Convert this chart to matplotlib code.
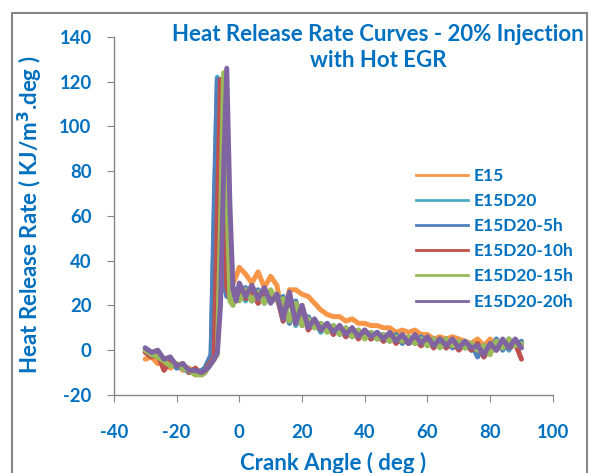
import numpy as np
import matplotlib.pyplot as plt
from matplotlib.lines import Line2D
from matplotlib.patches import Rectangle

# crank angle grid (deg)
angle = [-30, -28, -26, -24, -22, -20, -18, -16, -14, -12,
         -11, -10, -9, -8, -7, -6, -5, -4, -3, -2, -1, 0,
         2, 4, 6, 8, 10, 12, 14, 16, 18, 20, 22, 24, 26, 28, 30,
         32, 34, 36, 38, 40, 42, 44, 46, 48, 50, 52, 54, 56, 58, 60,
         62, 64, 66, 68, 70, 72, 74, 76, 78, 80, 82, 84, 86, 88, 90]

e15 = [-4, -3, -6, -5, -8, -6, -9, -8, -11, -10,
       -9, -7, -4, 10, 70, 118, 75, 40, 32, 30, 33, 37,
       34, 30, 35, 28, 33, 29, 14, 27, 27, 25, 24, 21, 18, 16, 15,
       15, 13, 14, 12, 12, 11, 11, 10, 10, 8, 9, 8, 9, 7, 7,
       5, 6, 5, 6, 5, 4, 3, 5, 2, 5, 2, 4, 1, 3, 2]

e15d20 = [1, -1, -3, -4, -6, -7, -8, -10, -9, -10,
          -9, -6, -3, 55, 122, 80, 32, 27, 24, 28, 23, 27,
          22, 28, 21, 26, 22, 25, 13, 24, 11, 19, 10, 13, 8, 12, 8,
          10, 6, 9, 6, 8, 5, 8, 4, 7, 4, 6, 3, 6, 2, 5,
          2, 5, 1, 4, 1, 4, 0, 3, -3, 2, 1, 4, 0, 4, 3]

e15d20_5h = [0, -2, -1, -5, -4, -8, -7, -9, -10, -9,
             -8, -5, -2, 65, 121, 75, 30, 24, 26, 23, 27, 25,
             28, 22, 27, 21, 26, 22, 24, 12, 22, 11, 15, 10, 12, 9, 11,
             7, 10, 6, 9, 6, 8, 5, 7, 4, 7, 3, 6, 3, 6, 2,
             5, 2, 5, 1, 4, 1, 3, -3, 2, -1, 5, 0, 5, 2, 4]

e15d20_10h = [-1, -3, -2, -9, -5, -7, -6, -10, -8, -11,
              -10, -7, -5, -3, 60, 121, 72, 28, 23, 27, 22, 28,
              23, 27, 21, 27, 22, 24, 13, 25, 12, 20, 9, 13, 9, 11, 7,
              11, 6, 10, 5, 9, 5, 7, 4, 7, 3, 6, 3, 5, 2, 5,
              1, 5, 1, 4, 0, 3, 0, 3, -3, 1, 0, 4, 1, 3, -4]

e15d20_15h = [0, -2, -3, -5, -7, -6, -8, -9, -11, -11,
              -10, -8, -6, -4, -2, 55, 124, 75, 22, 20, 26, 22,
              27, 22, 26, 21, 27, 22, 23, 13, 21, 11, 14, 10, 12, 8, 11,
              7, 10, 6, 9, 5, 8, 5, 7, 4, 6, 4, 6, 3, 5, 2,
              5, 1, 5, 2, 4, 1, 3, 0, 2, -2, 4, 1, 5, 2, 3]

e15d20_20h = [1, -1, 0, -4, -3, -7, -6, -9, -9, -10,
              -9, -8, -6, -4, -1, 20, 80, 126, 65, 27, 22, 30,
              24, 29, 23, 28, 21, 25, 14, 26, 12, 20, 10, 14, 9, 12, 8,
              11, 7, 10, 6, 9, 6, 8, 5, 8, 4, 7, 3, 7, 3, 6,
              2, 5, 2, 5, 1, 4, 1, 2, -2, 3, 0, 5, 1, 5, 1]

labels = ["E15", "E15D20", "E15D20-5h", "E15D20-10h", "E15D20-15h", "E15D20-20h"]
colors = ["#F79646", "#4BACC6", "#4F81BD", "#C0504D", "#9BBB59", "#8064A2"]
series = [e15, e15d20, e15d20_5h, e15d20_10h, e15d20_15h, e15d20_20h]

txt_col = "#0070C0"
grey = "#868686"
plt.rcParams['font.family'] = ['Lato', 'DejaVu Sans']
plt.rcParams['font.weight'] = 'bold'
plt.rcParams['axes.unicode_minus'] = False

fig = plt.figure(figsize=(5.9, 4.73), dpi=100)
ax = fig.add_axes([0.193, 0.165, 0.744, 0.757])

for ys, c in zip(series, colors):
    ax.plot(angle, ys, color=c, lw=3.6, solid_joinstyle='round', solid_capstyle='round')

ax.set_xlim(-40, 100)
ax.set_ylim(-20, 140)
ax.set_xticks(np.arange(-40, 101, 20))
ax.set_yticks(np.arange(-20, 141, 20))
for s in ['top', 'right']:
    ax.spines[s].set_visible(False)
for s in ['left', 'bottom']:
    ax.spines[s].set_color(grey)
    ax.spines[s].set_linewidth(1.0)
ax.tick_params(axis='both', direction='out', length=5, color=grey,
               labelsize=13.3, labelcolor=txt_col)
ax.tick_params(axis='x', pad=16)
ax.tick_params(axis='y', pad=11)

fig.text(0.5645, 0.021, "Crank Angle ( deg )", ha='center', va='center',
         color=txt_col, fontsize=16, fontweight='bold')
fig.text(0.051, 0.545, "Heat Release Rate ( KJ/m$^{\\mathbf{3}}$.deg )", ha='center', va='center',
         rotation=90, color=txt_col, fontsize=16, fontweight='bold')
fig.text(0.641, 0.90, "Heat Release Rate Curves - 20% Injection\nwith Hot EGR",
         ha='center', va='center', color=txt_col, fontsize=16, fontweight='bold',
         linespacing=1.3)

handles = [Line2D([0], [0], color=c, lw=2) for c in colors]
leg = ax.legend(handles, labels, loc='upper left', bbox_to_anchor=(0.69, 0.664),
                bbox_transform=fig.transFigure, frameon=False, fontsize=12.5,
                handlelength=3.0, handletextpad=0.35, labelspacing=0.53,
                borderpad=0)
for t in leg.get_texts():
    t.set_color(txt_col)

fig.patches.append(Rectangle((0.02, -0.05), 0.975, 1.022, transform=fig.transFigure,
                             fill=False, edgecolor=grey, lw=1.5))

fig.savefig("out.png", dpi=100)
